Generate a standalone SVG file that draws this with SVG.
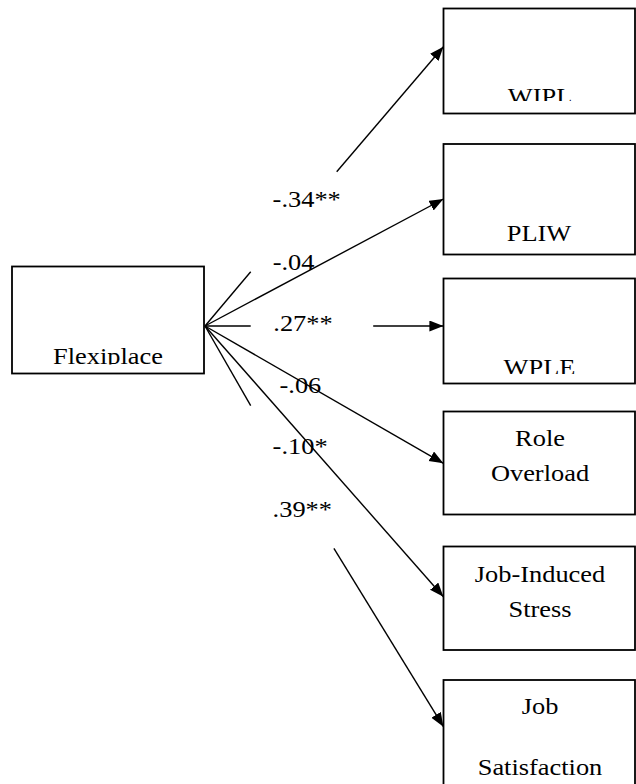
<svg xmlns="http://www.w3.org/2000/svg" width="636" height="784" viewBox="0 0 636 784">
<style>
  .box { fill: #fff; stroke: #000; stroke-width: 1.8; }
  .t { font-family: 'Liberation Serif', 'DejaVu Serif', serif; font-size: 24px; fill: #000; }
  .c { text-anchor: middle; }
  .ln { stroke: #000; stroke-width: 1.4; fill: none; }
  .arr { marker-end: url(#ah); }
</style>
<defs>
  <marker id="ah" markerUnits="userSpaceOnUse" markerWidth="16" markerHeight="12" refX="14" refY="5.5" orient="auto">
    <path d="M0,0 L14,5.5 L0,11 z" fill="#000"/>
  </marker>
  <clipPath id="cWIPL"><rect x="444" y="9" width="190" height="92"/></clipPath>
  <clipPath id="cWPLE"><rect x="444" y="279" width="190" height="95"/></clipPath>
  <clipPath id="cFlex"><rect x="13" y="267" width="190" height="97.5"/></clipPath>
  <clipPath id="cJS"><rect x="444" y="681" width="190" height="94.5"/></clipPath>
</defs>

<g id="Flexiplace">
  <rect class="box" x="12" y="266.5" width="192" height="107"/>
  <g clip-path="url(#cFlex)"><text class="t c" font-family="Liberation Serif, DejaVu Serif, serif" transform="translate(108,364) scale(1.1,1)">Flexiplace</text></g>
</g>

<g id="WIPL">
  <rect class="box" x="443.5" y="8.5" width="191.5" height="105"/>
  <g clip-path="url(#cWIPL)"><text class="t c" font-family="Liberation Serif, DejaVu Serif, serif" transform="translate(540,104.3) scale(1.1,1)">WIPL</text></g>
</g>

<g id="PLIW">
  <rect class="box" x="443.5" y="144" width="191.5" height="110.5"/>
  <text class="t c" font-family="Liberation Serif, DejaVu Serif, serif" transform="translate(539,240.5) scale(1.1,1)">PLIW</text>
</g>

<g id="WPLE">
  <rect class="box" x="443.5" y="278.5" width="191.5" height="105"/>
  <g clip-path="url(#cWPLE)"><text class="t c" font-family="Liberation Serif, DejaVu Serif, serif" transform="translate(539.5,374.5) scale(1.1,1)">WPLE</text></g>
</g>

<g id="RoleOverload">
  <rect class="box" x="443.5" y="411.5" width="191.5" height="103"/>
  <text class="t c" font-family="Liberation Serif, DejaVu Serif, serif" transform="translate(540,446) scale(1.1,1)">Role</text>
  <text class="t c" font-family="Liberation Serif, DejaVu Serif, serif" transform="translate(540,480.7) scale(1.1,1)">Overload</text>
</g>

<g id="JobInducedStress">
  <rect class="box" x="443.5" y="546.5" width="191.5" height="103.5"/>
  <text class="t c" font-family="Liberation Serif, DejaVu Serif, serif" transform="translate(540,581.7) scale(1.1,1)">Job-Induced</text>
  <text class="t c" font-family="Liberation Serif, DejaVu Serif, serif" transform="translate(540,616.7) scale(1.1,1)">Stress</text>
</g>

<g id="JobSatisfaction">
  <rect class="box" x="443.5" y="680" width="191.5" height="130"/>
  <text class="t c" font-family="Liberation Serif, DejaVu Serif, serif" transform="translate(540,713.5) scale(1.1,1)">Job</text>
  <g clip-path="url(#cJS)"><text class="t c" font-family="Liberation Serif, DejaVu Serif, serif" transform="translate(540,775) scale(1.1,1)">Satisfaction</text></g>
</g>

<g id="connectors">
  <line class="ln" x1="205" y1="326" x2="250.7" y2="271.7"/>
  <line class="ln arr" x1="336.7" y1="171.7" x2="443.4" y2="46.7"/>
  <line class="ln arr" x1="205" y1="326" x2="443.4" y2="199"/>
  <line class="ln" x1="205" y1="326" x2="250.7" y2="326"/>
  <line class="ln arr" x1="373.2" y1="326" x2="443.4" y2="326"/>
  <line class="ln arr" x1="205" y1="326" x2="443.4" y2="463.3"/>
  <line class="ln arr" x1="205" y1="326" x2="443.4" y2="596.7"/>
  <line class="ln" x1="205" y1="326" x2="250.7" y2="405.7"/>
  <line class="ln arr" x1="333.9" y1="548.3" x2="443.4" y2="726.7"/>
</g>

<g id="labels">
  <text class="t" font-family="Liberation Serif, DejaVu Serif, serif" transform="translate(272.6,206.7) scale(1.1,1)">-.34**</text>
  <text class="t" font-family="Liberation Serif, DejaVu Serif, serif" transform="translate(272.7,270) scale(1.1,1)">-.04</text>
  <text class="t" font-family="Liberation Serif, DejaVu Serif, serif" transform="translate(273.3,331) scale(1.1,1)">.27**</text>
  <text class="t" font-family="Liberation Serif, DejaVu Serif, serif" transform="translate(279.5,392.7) scale(1.1,1)">-.06</text>
  <text class="t" font-family="Liberation Serif, DejaVu Serif, serif" transform="translate(272.6,454) scale(1.1,1)">-.10*</text>
  <text class="t" font-family="Liberation Serif, DejaVu Serif, serif" transform="translate(272.6,516.7) scale(1.1,1)">.39**</text>
</g>
</svg>
